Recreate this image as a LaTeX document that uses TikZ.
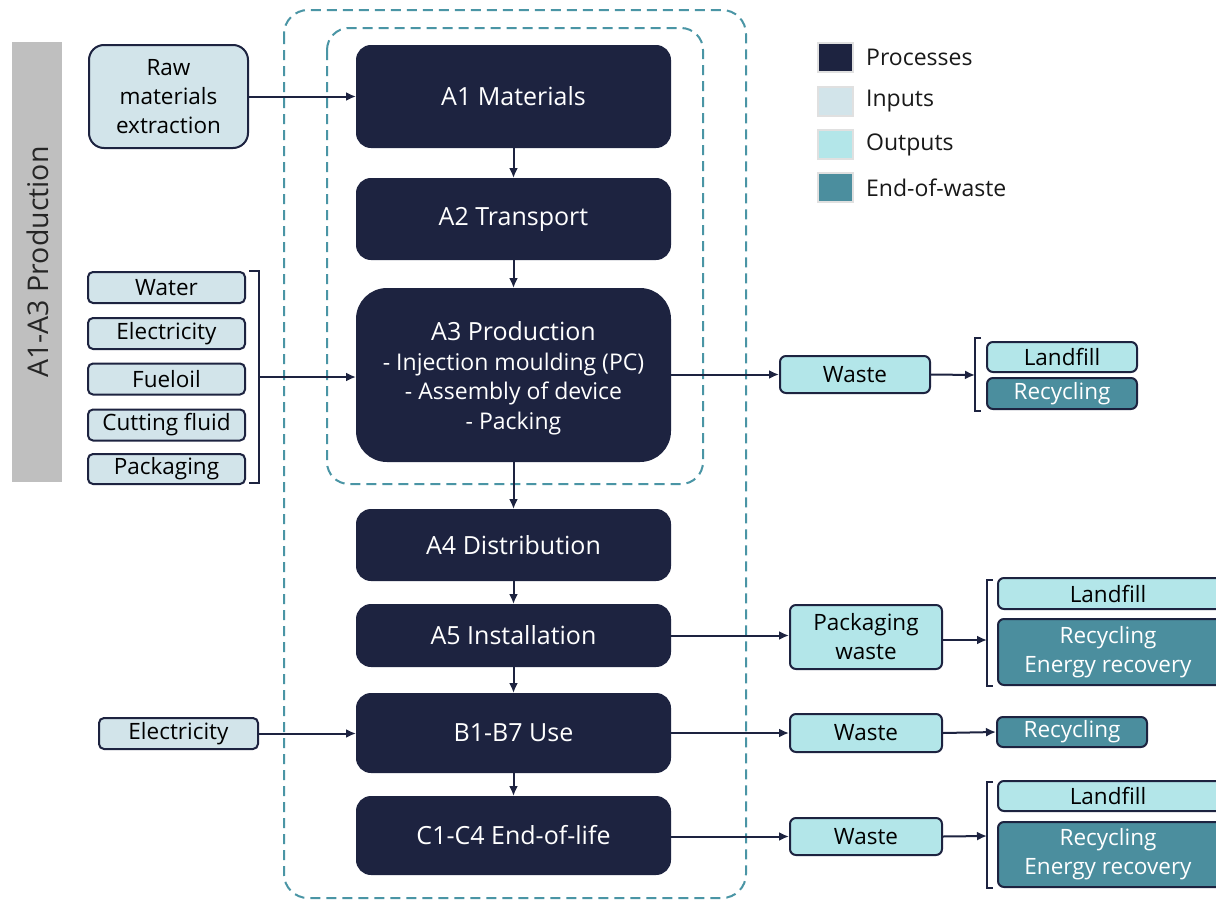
\documentclass[tikz,border=0pt]{standalone}
\usepackage{fontspec}
\setmainfont{Open Sans}
\usetikzlibrary{arrows.meta}
\definecolor{navy}{HTML}{1D2340}
\definecolor{inp}{HTML}{D2E4EA}
\definecolor{outp}{HTML}{B3E6E9}
\definecolor{eow}{HTML}{4B8E9E}
\definecolor{dash}{HTML}{4A95A5}
\definecolor{bar}{HTML}{BFBFBF}
\tikzset{
  base/.style={inner sep=0pt, align=center, line width=2pt, draw=navy},
  proc/.style={base, fill=navy, text=white, rounded corners=14pt, font=\fontsize{25}{29.5}\selectfont},
  inbox/.style={base, fill=inp, text=black, rounded corners=5pt, font=\fontsize{22.5}{29}\selectfont},
  outbox/.style={base, fill=outp, text=black, rounded corners=6pt, font=\fontsize{22.5}{29}\selectfont},
  eowbox/.style={base, fill=eow, text=white, rounded corners=6pt, font=\fontsize{22.5}{29}\selectfont},
  wh/.style 2 args={minimum width=#1pt, minimum height=#2pt},
  arr/.style={draw=navy, line width=2pt, -{Latex[length=10pt,width=9pt]}},
  brk/.style={draw=navy, line width=1.8pt},
  dbox/.style={draw=dash, line width=2pt, dash pattern=on 10pt off 6pt, rounded corners=24pt},
  legsq/.style={draw=black!12, line width=1.2pt, minimum width=35pt, minimum height=29pt, inner sep=0pt},
  legtx/.style={anchor=west, inner sep=0pt, font=\fontsize{23}{26}\selectfont, text=black!90},
}
\newcommand{\sub}[1]{{\fontsize{23}{29.5}\selectfont #1}}
\begin{document}
\begin{tikzpicture}[x=1pt, y=-1pt]
\useasboundingbox (0,0) rectangle (1216,902);
\clip (0,0) rectangle (1216,902);
\fill[white] (0,0) rectangle (1216,902);

% grey side bar
\node[fill=bar, minimum width=50pt, minimum height=440pt, inner sep=0pt] (sidebar) at (37,262) {};
\node[rotate=90, font=\fontsize{28.5}{30}\selectfont, text=black!85] (sidetext) at (38,262) {A1-A3 Production};

% dashed system boundaries
\draw[dbox] (284,10) rectangle (746,898);
\draw[dbox, rounded corners=22pt] (327,28) rectangle (703,484);

% processes
\node[proc, wh={313}{101}] (a1) at (513.5,96.5) {A1 Materials};
\node[proc, wh={313}{80}] (a2) at (513.5,219) {A2 Transport};
\node[proc, wh={313}{172}, rounded corners=30pt] (a3) at (513.5,375) {};
\node[proc, draw=none, fill=none] (a3t) at (513.5,378.5) {A3 Production\\\sub{- Injection moulding (PC)}\\\sub{- Assembly of device}\\\sub{- Packing}};
\node[proc, wh={313}{70}] (a4) at (513.5,545) {A4 Distribution};
\node[proc, wh={313}{61}] (a5) at (513.5,635.5) {A5 Installation};
\node[proc, wh={313}{78}] (b) at (513.5,733) {B1-B7 Use};
\node[proc, wh={313}{77}] (c) at (513.5,835.5) {C1-C4 End-of-life};

\draw[arr] (a1) -- (a2);
\draw[arr] (a2) -- (a3);
\draw[arr] (a3) -- (a4);
\draw[arr] (a4) -- (a5);
\draw[arr] (a5) -- (b);
\draw[arr] (b) -- (c);

% inputs
\node[inbox, wh={159}{103}, rounded corners=15pt] (raw) at (168.5,96.5) {Raw\\materials\\extraction};
\draw[arr] (raw.east) -- (raw.east -| a1.west);

\node[inbox, wh={157}{31}] (water) at (166.5,287.5) {Water};
\node[inbox, wh={157}{31}] (elec) at (166.5,333.5) {Electricity};
\node[inbox, wh={157}{31}] (fuel) at (166.5,379) {Fueloil};
\node[inbox, wh={157}{31}] (cut) at (166.5,425) {Cutting fluid};
\node[inbox, wh={157}{30}] (pack) at (166.5,469) {Packaging};
\coordinate (lb) at (259,377);
\draw[brk] (249,271) -- (259,271) -- (259,483) -- (249,483);
\draw[arr] (lb) -- (lb -| a3.west);

\node[inbox, wh={159}{31}] (elec2) at (178.5,733.5) {Electricity};
\draw[arr] (elec2.east) -- (elec2.east -| b.west);

% outputs A3
\node[outbox, wh={150}{37}] (w1) at (855,374.5) {Waste};
\draw[arr] (a3.east |- w1) -- (w1.west);
\node[outbox, wh={150}{30}] (lf1) at (1062,357) {Landfill};
\node[eowbox, wh={150}{31}] (rc1) at (1062,393.5) {Recycling};
\coordinate (br1) at (975,375);
\draw[brk] (981,338) -- (975,338) -- (975,411) -- (981,411);
\draw[arr] (w1.east) -- (br1);

% outputs A5
\node[outbox, wh={152}{64}] (pw) at (866,637) {Packaging\\waste};
\draw[arr] (a5.east) -- (a5.east -| pw.west);
\node[outbox, wh={228}{31}, anchor=west] (lf2) at (997,593.5) {\hspace*{-8pt}Landfill};
\node[eowbox, wh={228}{66}, anchor=west] (rc2) at (997,652) {\hspace*{-8pt}Recycling\\\hspace*{-8pt}Energy recovery};
\coordinate (br2) at (987,640);
\draw[brk] (993,580) -- (987,580) -- (987,686) -- (993,686);
\draw[arr] (pw.east |- br2) -- (br2);

% outputs B
\node[outbox, wh={152}{38}] (w2) at (866,733) {Waste};
\draw[arr] (b.east) -- (b.east -| w2.west);
\node[eowbox, wh={150}{30}] (rc3) at (1072,732) {Recycling};
\draw[arr] (w2.east) -- (rc3.west);

% outputs C
\node[outbox, wh={152}{37}] (w3) at (866,836.5) {Waste};
\draw[arr] (c.east |- w3) -- (w3.west);
\node[outbox, wh={228}{30}, anchor=west] (lf3) at (997,796) {\hspace*{-8pt}Landfill};
\node[eowbox, wh={228}{65}, anchor=west] (rc3b) at (997,854.5) {\hspace*{-8pt}Recycling\\\hspace*{-8pt}Energy recovery};
\coordinate (br3) at (987,836);
\draw[brk] (993,782) -- (987,782) -- (987,888) -- (993,888);
\draw[arr] (w3.east) -- (br3);

% legend
\node[legsq, fill=navy] (lg1) at (835.5,57.5) {};
\node[legtx] (lt1) at (866,57.5) {Processes};
\node[legsq, fill=inp] (lg2) at (835.5,101.5) {};
\node[legtx] (lt2) at (866,101.5) {Inputs};
\node[legsq, fill=outp] (lg3) at (835.5,144.5) {};
\node[legtx] (lt3) at (866,144.5) {Outputs};
\node[legsq, fill=eow] (lg4) at (835.5,187.5) {};
\node[legtx] (lt4) at (866,187.5) {End-of-waste};
\end{tikzpicture}
\end{document}
